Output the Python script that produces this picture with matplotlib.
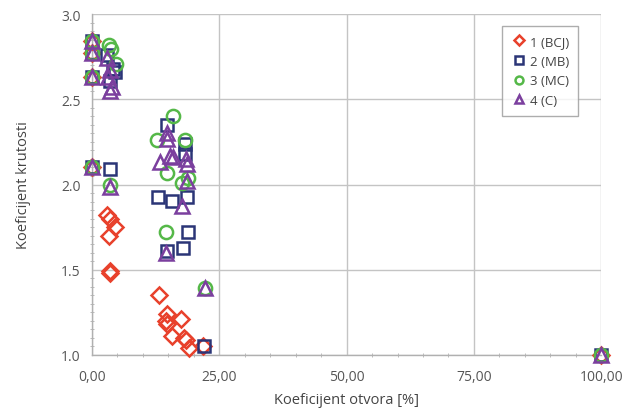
import matplotlib
matplotlib.use("Agg")
import matplotlib.pyplot as plt
from matplotlib.ticker import MultipleLocator, FuncFormatter

plt.rcParams['font.family'] = ['Open Sans', 'DejaVu Sans']

# Series data (x = Koeficijent otvora [%], y = Koeficijent krutosti)
bcj_x = [0, 0, 0, 0, 2.9, 3.5, 4.5, 3.4, 3.5, 3.6,
         13.2, 14.7, 14.5, 14.7, 17.5, 15.8, 18.1, 18.5, 19.1, 21.9, 100]
bcj_y = [2.84, 2.77, 2.63, 2.10, 1.82, 1.80, 1.75, 1.70, 1.49, 1.48,
         1.35, 1.24, 1.20, 1.18, 1.21, 1.11, 1.10, 1.09, 1.04, 1.055, 1.0]

mb_x = [0, 0, 0, 0, 3.0, 4.2, 4.5, 3.6, 3.5,
        14.7, 18.2, 18.2, 13.0, 15.8, 18.6, 18.9, 17.8, 14.7, 22.0, 100]
mb_y = [2.84, 2.77, 2.63, 2.10, 2.76, 2.68, 2.66, 2.61, 2.09,
        2.35, 2.24, 2.18, 1.925, 1.905, 1.925, 1.72, 1.625, 1.61, 1.055, 1.0]

mc_x = [0, 0, 0, 0, 3.4, 3.8, 4.7, 3.6,
        16.0, 12.7, 18.3, 14.7, 18.9, 17.6, 14.5, 22.3, 100]
mc_y = [2.84, 2.77, 2.63, 2.10, 2.82, 2.795, 2.71, 1.995,
        2.40, 2.26, 2.26, 2.07, 2.04, 2.01, 1.72, 1.39, 1.0]

c_x = [0, 0, 0, 0, 2.9, 3.5, 3.2, 3.9, 3.6, 3.6,
       14.7, 14.7, 15.3, 13.4, 16.0, 18.5, 18.6, 18.6, 17.6, 14.5, 22.3, 100]
c_y = [2.84, 2.77, 2.63, 2.10, 2.74, 2.67, 2.63, 2.57, 2.55, 1.985,
       2.305, 2.27, 2.17, 2.13, 2.16, 2.15, 2.12, 2.02, 1.875, 1.60, 1.39, 1.0]

labels = ['1 (BCJ)', '2 (MB)', '3 (MC)', '4 (C)']
colors = ['#e8412c', '#2b3577', '#55b848', '#7b3f9e']
markers = ['D', 's', 'o', '^']
sizes = [8, 9, 9.5, 9.5]

fig = plt.figure(figsize=(6.25, 4.10), dpi=100)
ax = fig.add_axes([0.147, 0.132, 0.815, 0.831])

data = [(bcj_x, bcj_y), (mb_x, mb_y), (mc_x, mc_y), (c_x, c_y)]
for (xs, ys), lab, col, mk, ms in zip(data, labels, colors, markers, sizes):
    ax.plot(xs, ys, linestyle='none', marker=mk, markersize=ms,
            markerfacecolor='none', markeredgecolor=col, markeredgewidth=1.8,
            label=lab, clip_on=False, zorder=3)

ax.set_xlim(0, 100)
ax.set_ylim(1.0, 3.0)
ax.xaxis.set_major_locator(MultipleLocator(25))
ax.xaxis.set_minor_locator(MultipleLocator(5))
ax.yaxis.set_major_locator(MultipleLocator(0.5))
ax.yaxis.set_minor_locator(MultipleLocator(0.05))
ax.xaxis.set_major_formatter(FuncFormatter(lambda v, p: f"{v:.2f}".replace('.', ',')))
ax.yaxis.set_major_formatter(FuncFormatter(lambda v, p: f"{v:.1f}"))

ax.grid(True, which='major', color='#c4c4c4', linewidth=1.0)
ax.set_axisbelow(True)
for s in ['top', 'right']:
    ax.spines[s].set_visible(False)
for s in ['left', 'bottom']:
    ax.spines[s].set_color('#b0b0b0')
    ax.spines[s].set_linewidth(1.0)

ax.tick_params(axis='x', which='major', length=0, labelsize=10, labelcolor='#555555', pad=10)
ax.tick_params(axis='y', which='major', length=0, labelsize=10, labelcolor='#555555', pad=8)
ax.tick_params(which='minor', length=3, color='#b0b0b0', direction='inout')

ax.set_xlabel('Koeficijent otvora [%]', fontsize=10.5, color='#444444', labelpad=6)
ax.set_ylabel('Koeficijent krutosti', fontsize=10.5, color='#444444', labelpad=22)

leg = ax.legend(loc='upper right', bbox_to_anchor=(0.968, 0.985), fontsize=9.5,
                frameon=True, fancybox=False, edgecolor='#999999',
                handletextpad=0.2, borderpad=0.7, labelspacing=0.5,
                handlelength=1.2, markerscale=0.6)
for t in leg.get_texts():
    t.set_color('#444444')

fig.savefig('out.png', dpi=100, facecolor='white')
